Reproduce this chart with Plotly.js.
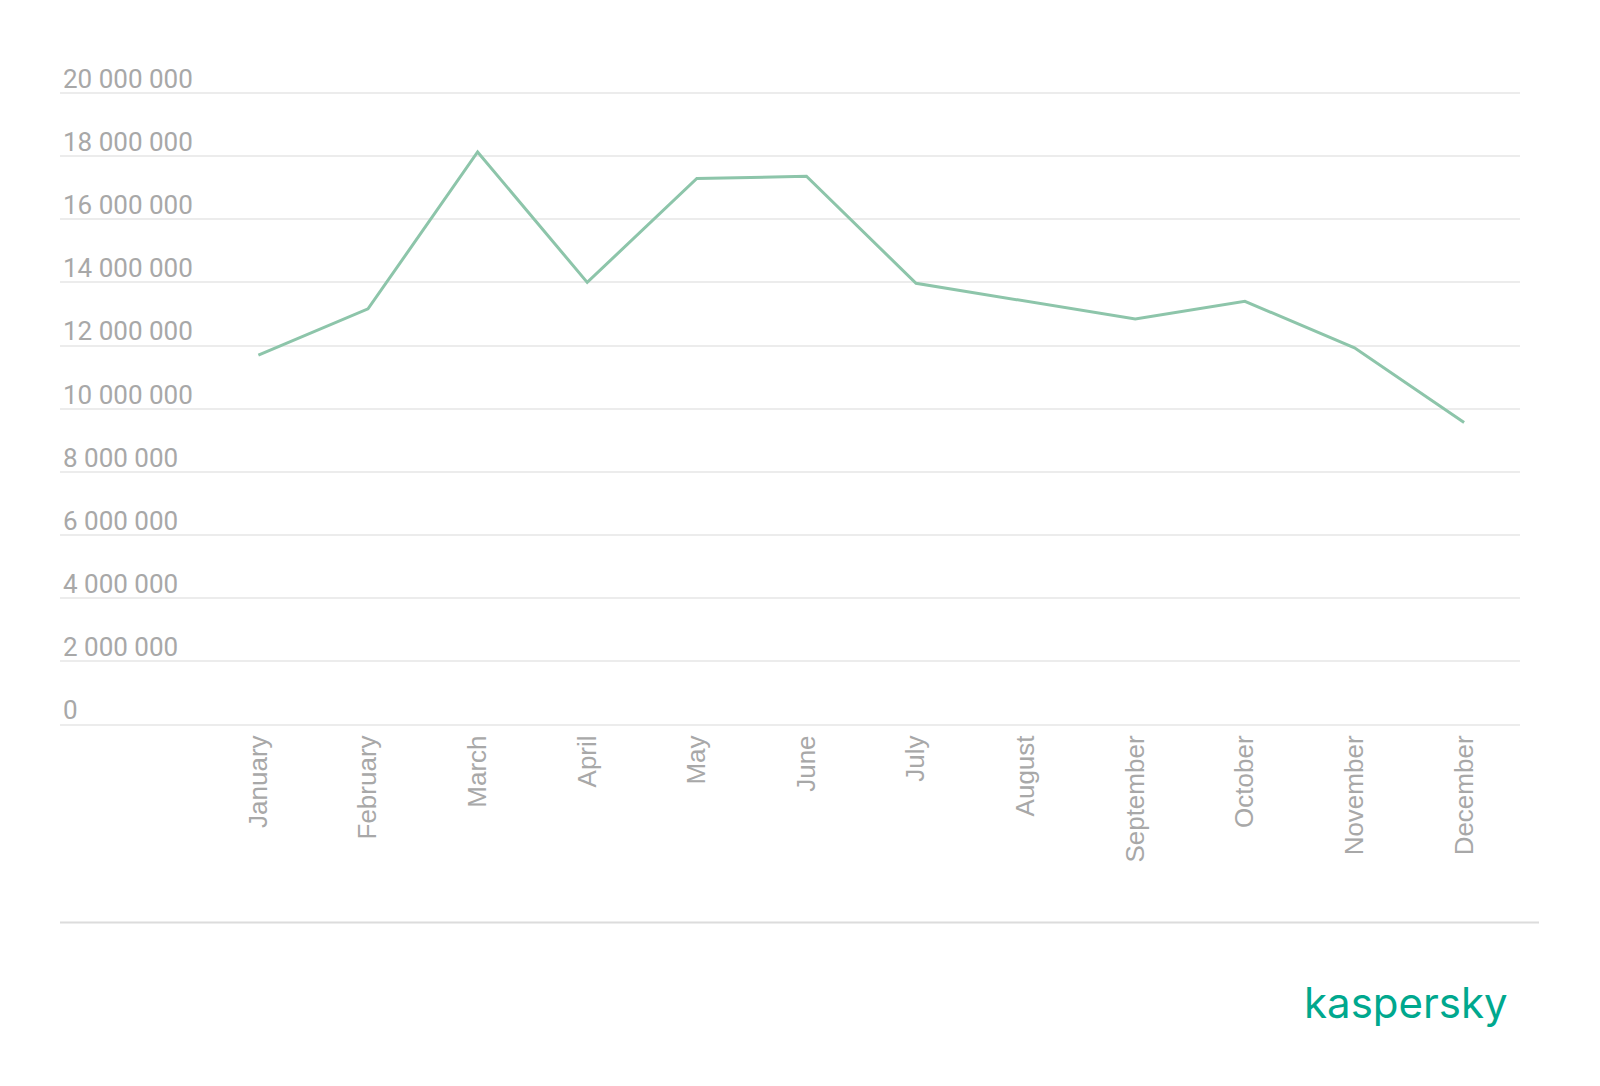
<!DOCTYPE html>
<html>
<head>
<meta charset="utf-8">
<script src="https://cdn.plot.ly/plotly-3.0.1.min.js"></script>
<style>html,body{margin:0;padding:0;background:#ffffff;}</style>
</head>
<body>
<div id="chart" style="width:1600px;height:1086px;"></div>
<script>
const months = ["January","February","March","April","May","June","July","August","September","October","November","December"];
const attacks = [11700000, 13160000, 18130000, 14000000, 17290000, 17360000, 13970000, 13400000, 12840000, 13400000, 11930000, 9560000];
const yTickValues = [0, 2000000, 4000000, 6000000, 8000000, 10000000, 12000000, 14000000, 16000000, 18000000, 20000000];
const brandText = "kaspersky";

const W = 1600, H = 1086;
const pxPerUnit = (724.5 - 92.9) / 20000000;
const yMin = -150000, yMax = 21200000;
const plotL = 60, plotR = 1520;
const topLine = 92.9;
const plotT = topLine - (yMax - 20000000) * pxPerUnit;
const plotB = topLine + (20000000 - yMin) * pxPerUnit;
const fx = p => p / W;
const fy = p => (H - p) / H;

const trace = {
  type: 'scatter',
  mode: 'lines',
  x: months,
  y: attacks,
  line: {color: '#8dc5aa', width: 3},
  hoverinfo: 'skip'
};

const layout = {
  width: W, height: H,
  margin: {l: 0, r: 0, t: 0, b: 0, pad: 0},
  paper_bgcolor: '#ffffff',
  plot_bgcolor: '#ffffff',
  showlegend: false,
  separators: '. ',
  xaxis: {
    type: 'category',
    domain: [fx(plotL), fx(plotR)],
    range: [-1.81, 11.51],
    automargin: false,
    showgrid: false,
    zeroline: false,
    showline: false,
    ticks: '',
    tickangle: -90,
    tickfont: {family: 'Liberation Sans, Arial, sans-serif', size: 26, color: '#a8a8a8'},
    fixedrange: true
  },
  yaxis: {
    domain: [fy(plotB), fy(plotT)],
    range: [yMin, yMax],
    automargin: false,
    tickvals: yTickValues,
    tickformat: ',d',
    ticklabelposition: 'inside top',
    ticklabelshift: 4,
    showgrid: true,
    gridcolor: '#ececec',
    gridwidth: 2,
    zeroline: false,
    showline: false,
    ticks: '',
    tickfont: {family: 'Roboto, sans-serif', size: 26, color: '#a8a8a8'},
    fixedrange: true
  },
  shapes: [{
    type: 'line', xref: 'paper', yref: 'paper',
    x0: fx(60), x1: fx(1539), y0: fy(922.5), y1: fy(922.5),
    line: {color: '#dcdcdc', width: 2}
  }],
  annotations: [{
    text: brandText, xref: 'paper', yref: 'paper',
    x: fx(1510), y: fy(1002), xanchor: 'right', yanchor: 'middle',
    showarrow: false,
    font: {family: 'Inter, Noto Sans, sans-serif', size: 42, color: '#00a88e'}
  }]
};

Plotly.newPlot('chart', [trace], layout, {displayModeBar: false, staticPlot: true});
</script>
</body>
</html>
